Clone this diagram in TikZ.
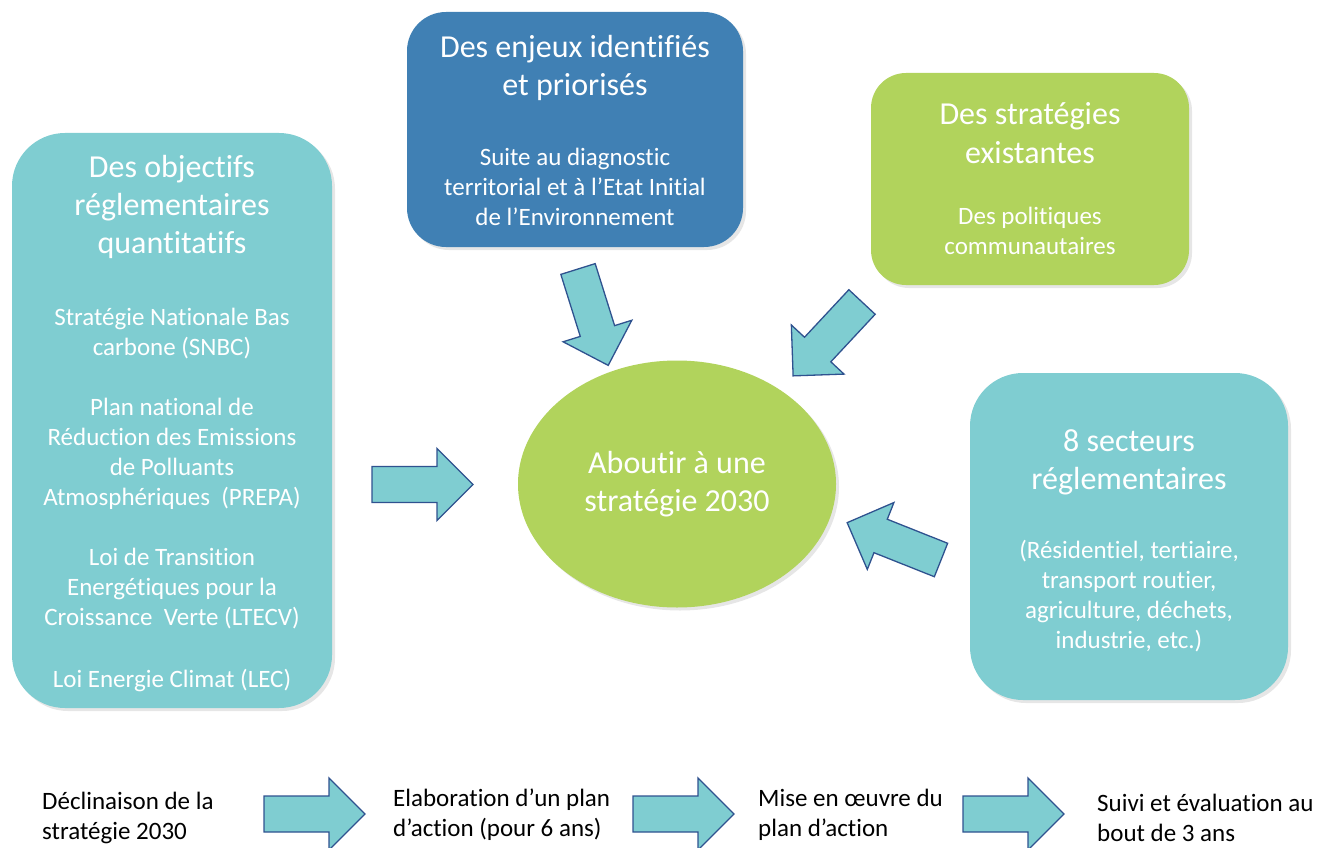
\documentclass[tikz,border=0pt]{standalone}
\usepackage{fontspec}
\setmainfont{Carlito}[Ligatures={NoCommon,NoContextual}, Contextuals={NoAlternate}]
\usetikzlibrary{shapes.geometric,shadows}
\usepackage{xcolor}

\definecolor{boxteal}{RGB}{127,205,209}
\definecolor{boxblue}{RGB}{64,128,180}
\definecolor{boxgreen}{RGB}{177,211,92}
\definecolor{arrowline}{RGB}{47,82,143}

\newcommand{\titlefont}{\fontsize{32}{38}\selectfont}
\newcommand{\bodyfont}{\fontsize{25}{30}\selectfont}

\begin{document}
\begin{tikzpicture}[x=1pt, y=-1pt,
        box/.style={
            rectangle,
            rounded corners=#1,
            inner sep=0pt,
            drop shadow={opacity=0.2, shadow xshift=3pt, shadow yshift=-3pt}
        },
        boxtext/.style={
            align=center,
            text=white,
            font={\bodyfont\lineskiplimit=-50pt},
            inner sep=0pt
        },
        steptext/.style={
            align=left,
            anchor=west,
            font={\bodyfont\lineskiplimit=-50pt},
            inner sep=0pt
        },
        blockarrow/.style={
            fill=boxteal,
            draw=arrowline,
            line width=1.3pt,
            line join=miter
        }
    ]
        \useasboundingbox (0,0) rectangle (1330,848);

        \node (objectifs) [
            box=53pt,
            fill=boxteal,
            minimum width=320pt,
            minimum height=575pt
        ] at (172,420.5) {};

        \node (enjeux) [
            box=39pt,
            fill=boxblue,
            minimum width=336pt,
            minimum height=235pt
        ] at (575,129.5) {};

        \node (strategies) [
            box=35pt,
            fill=boxgreen,
            minimum width=318pt,
            minimum height=212pt
        ] at (1030,179) {};

        \node (secteurs) [
            box=53pt,
            fill=boxteal,
            minimum width=318pt,
            minimum height=327pt
        ] at (1129,536.5) {};

        \node (aboutir) [
            ellipse,
            fill=boxgreen,
            minimum width=318pt,
            minimum height=247pt,
            inner sep=0pt,
            drop shadow={opacity=0.2, shadow xshift=3pt, shadow yshift=-3pt},
            text=white,
            align=center,
            font={\titlefont\lineskiplimit=-50pt}
        ] at (677,484) {Aboutir à une\\stratégie 2030};

        \node (objectifs-txt) [boxtext] at ([yshift=-3pt]objectifs.center)
        {
            {\titlefont Des objectifs}\\[8pt]
            {\titlefont réglementaires}\\[8pt]
            {\titlefont quantitatifs}\\[42pt]
            Stratégie Nationale Bas\\
            carbone (SNBC)\\[30pt]
            Plan national de\\
            Réduction des Emissions\\
            de Polluants\\
            Atmosphériques~~(PREPA)\\[30pt]
            Loi de Transition\\
            Energétiques pour la\\
            Croissance~ Verte (LTECV)\\[32pt]
            Loi Energie Climat (LEC)
        };

        \node (enjeux-txt) [boxtext] at ([yshift=-1pt]enjeux.center)
        {
            {\titlefont Des enjeux identifiés}\\[8pt]
            {\titlefont et priorisés}\\[40pt]
            Suite au diagnostic\\
            territorial et à l’Etat Initial\\
            de l’Environnement
        };

        \node (strategies-txt) [boxtext] at (strategies.center)
        {
            {\titlefont Des stratégies}\\[9pt]
            {\titlefont existantes}\\[31pt]
            Des politiques\\
            communautaires
        };

        \node (secteurs-txt) [boxtext] at ([yshift=-4pt]secteurs.center)
        {
            {\titlefont 8 secteurs}\\[8pt]
            {\titlefont réglementaires}\\[39pt]
            (Résidentiel, tertiaire,\\
            transport routier,\\
            agriculture, déchets,\\
            industrie, etc.)
        };

        \node (declinaison) [steptext] at (42,818) {Déclinaison de la\\stratégie 2030};
        \node (elaboration) [steptext] at (393,815) {Elaboration d’un plan\\d’action (pour 6 ans)};
        \node (miseenoeuvre) [steptext] at (758,815) {Mise en œuvre du\\plan d’action};
        \node (suivi) [steptext] at (1097,818) {Suivi et évaluation au\\bout de 3 ans};

        \foreach \x/\y/\a in {372/484.5/0, 578/269/-72.6, 862/302/-133, 941/560/158.3,
                              264/814/0, 633/814/0, 963/814/0}
            \draw[blockarrow, shift={(\x,\y)}, rotate=\a]
                (0,-18) -- (65,-18) -- (65,-36) -- (101,0) -- (65,36) -- (65,18) -- (0,18) -- cycle;
    \end{tikzpicture}
\end{document}
